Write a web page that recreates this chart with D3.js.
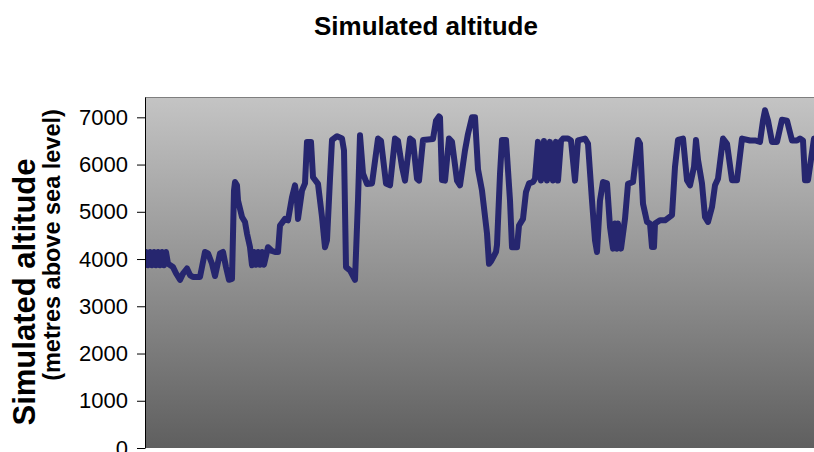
<!DOCTYPE html>
<html>
<head>
<meta charset="utf-8">
<script src="https://cdn.jsdelivr.net/npm/d3@7"></script>
<style>
  body { margin: 0; background: #fff; }
  svg { display: block; font-family: "Liberation Sans", Arial, sans-serif; }
</style>
</head>
<body>
<svg id="chart" width="814" height="452"></svg>
<script>
// simulation step (x) and altitude in metres
const steps = [
  0, 1, 3, 5, 7, 9, 11, 13, 15, 17, 19, 21, 23, 28, 31, 35, 38, 42, 45, 48,
  55, 60, 63, 67, 70, 75, 78, 81, 84, 87, 89, 90, 92, 93, 97, 100, 102, 105, 107, 109,
  111, 113, 115, 117, 119, 123, 127, 130, 133, 135, 140, 143, 147, 150, 152, 153, 157, 160, 162, 166,
  168, 173, 177, 180, 182, 185, 187, 192, 197, 199, 201, 205, 210, 213, 215, 218, 222, 227, 233, 236,
  241, 245, 250, 253, 257, 260, 265, 268, 272, 274, 278, 288, 291, 294, 295, 297, 300, 304, 307, 312,
  315, 320, 323, 327, 330, 333, 337, 342, 344, 346, 351, 352, 355, 357, 361, 365, 367, 372, 374, 378,
  381, 384, 388, 390, 393, 396, 399, 402, 405, 408, 411, 413, 416, 418, 423, 426, 430, 433, 440, 443,
  447, 450, 452, 455, 458, 462, 465, 468, 470, 472, 473, 476, 480, 483, 488, 493, 495, 498, 502, 505,
  507, 509, 510, 515, 520, 527, 530, 533, 538, 542, 545, 549, 551, 553, 557, 560, 563, 567, 570, 573,
  578, 582, 587, 592, 597, 605, 610, 615, 618, 620, 623, 627, 632, 637, 642, 647, 652, 655, 658, 660,
  663, 669, 675
];
const altitude = [
  4100, 4150, 3870, 4150, 3870, 4150, 3870, 4150, 3870, 4150, 3870, 4150, 3900, 3830, 3700, 3560, 3690, 3800, 3660, 3620,
  3620, 4150, 4120, 3900, 3640, 4120, 4150, 3830, 3560, 3580, 5450, 5630, 5560, 5240, 4890, 4785, 4540, 4250, 3870, 4150,
  3880, 4150, 3880, 4150, 3880, 4250, 4170, 4150, 4150, 4710, 4850, 4820, 5310, 5560, 5240, 4850, 5450, 5600, 6480, 6480,
  5730, 5590, 4890, 4250, 4400, 5700, 6520, 6600, 6550, 6300, 3830, 3760, 3560, 5240, 6620, 5810, 5590, 5600, 6550, 6500,
  5600, 5560, 6550, 6500, 5950, 5660, 6550, 6500, 5700, 5660, 6520, 6540, 6930, 7020, 7000, 5670, 5660, 6550, 6480, 5660,
  5560, 6300, 6650, 7000, 7000, 5900, 5450, 4540, 3900, 3950, 4150, 4300, 5800, 6520, 6520, 5240, 4250, 4250, 4710, 4850,
  5420, 5600, 5630, 5700, 6480, 5660, 6500, 5660, 6480, 5660, 6480, 5660, 6500, 6550, 6550, 6510, 5660, 6510, 6550, 6440,
  5240, 4400, 4150, 5240, 5630, 5600, 4680, 4220, 4750, 4220, 4750, 4220, 4850, 5590, 5630, 6520, 6440, 5170, 4785, 4750,
  4255, 4255, 4750, 4820, 4820, 4930, 5950, 6520, 6550, 5670, 5560, 5950, 6520, 6100, 5600, 4890, 4785, 5100, 5560, 5700,
  6550, 6440, 5670, 5670, 6550, 6510, 6510, 6480, 6930, 7150, 6930, 6480, 6480, 6950, 6930, 6510, 6510, 6550, 6510, 5670,
  5670, 6550, 6550
];
const yTicks = [0, 1000, 2000, 3000, 4000, 5000, 6000, 7000];
const titleText = 'Simulated altitude';
const yTitle = ['Simulated altitude', '(metres above sea level)'];

const width = 814, height = 452;
const margin = { top: 97, right: -30, bottom: 4, left: 145 };
const plotW = width - margin.left - margin.right;
const plotH = height - margin.top - margin.bottom;

const svg = d3.select('#chart');

const x = d3.scaleLinear()
  .domain([0, 669])
  .range([0, 669]);
const y = d3.scaleLinear()
  .domain([0, 7430])
  .range([plotH, 0]);

const defs = svg.append('defs');
const grad = defs.append('linearGradient')
  .attr('id', 'bg')
  .attr('x1', 0).attr('y1', 0)
  .attr('x2', 0).attr('y2', 1);
grad.append('stop').attr('offset', '0%').attr('stop-color', '#c4c4c4');
grad.append('stop').attr('offset', '100%').attr('stop-color', '#5f5f5f');

defs.append('clipPath').attr('id', 'clip')
  .append('rect')
  .attr('width', plotW)
  .attr('height', plotH);

const g = svg.append('g')
  .attr('transform', `translate(${margin.left},${margin.top})`);

g.append('rect')
  .attr('width', plotW)
  .attr('height', plotH)
  .attr('fill', 'url(#bg)');

g.append('line')
  .attr('x1', 0).attr('x2', plotW)
  .attr('y1', 0.5).attr('y2', 0.5)
  .attr('stroke', '#7f7f7f');

const points = steps.map((s, i) => [s, altitude[i]]);
const line = d3.line()
  .x(d => x(d[0]))
  .y(d => y(d[1]));

g.append('path')
  .datum(points)
  .attr('clip-path', 'url(#clip)')
  .attr('d', line)
  .attr('fill', 'none')
  .attr('stroke', '#26266f')
  .attr('stroke-width', 6)
  .attr('stroke-linejoin', 'round')
  .attr('stroke-linecap', 'round');

const yAxis = g.append('g')
  .call(d3.axisLeft(y)
    .tickValues(yTicks)
    .tickSize(8)
    .tickSizeOuter(0)
    .tickPadding(9)
    .tickFormat(d3.format('d')));
yAxis.select('.domain').attr('stroke', '#000');
yAxis.selectAll('.tick line').attr('stroke', '#000');
yAxis.selectAll('.tick text')
  .attr('fill', '#000')
  .style('font-family', '"Liberation Sans", Arial, sans-serif')
  .style('font-size', '22px');

svg.append('text')
  .attr('x', 426)
  .attr('y', 35)
  .attr('text-anchor', 'middle')
  .style('font-size', '26px')
  .style('font-weight', 'bold')
  .text(titleText);

svg.append('text')
  .attr('transform', 'translate(35,292) rotate(-90)')
  .attr('text-anchor', 'middle')
  .style('font-size', '31px')
  .style('font-weight', 'bold')
  .text(yTitle[0]);

svg.append('text')
  .attr('transform', 'translate(60,245) rotate(-90)')
  .attr('text-anchor', 'middle')
  .style('font-size', '23.5px')
  .style('font-weight', 'bold')
  .text(yTitle[1]);
</script>
</body>
</html>
